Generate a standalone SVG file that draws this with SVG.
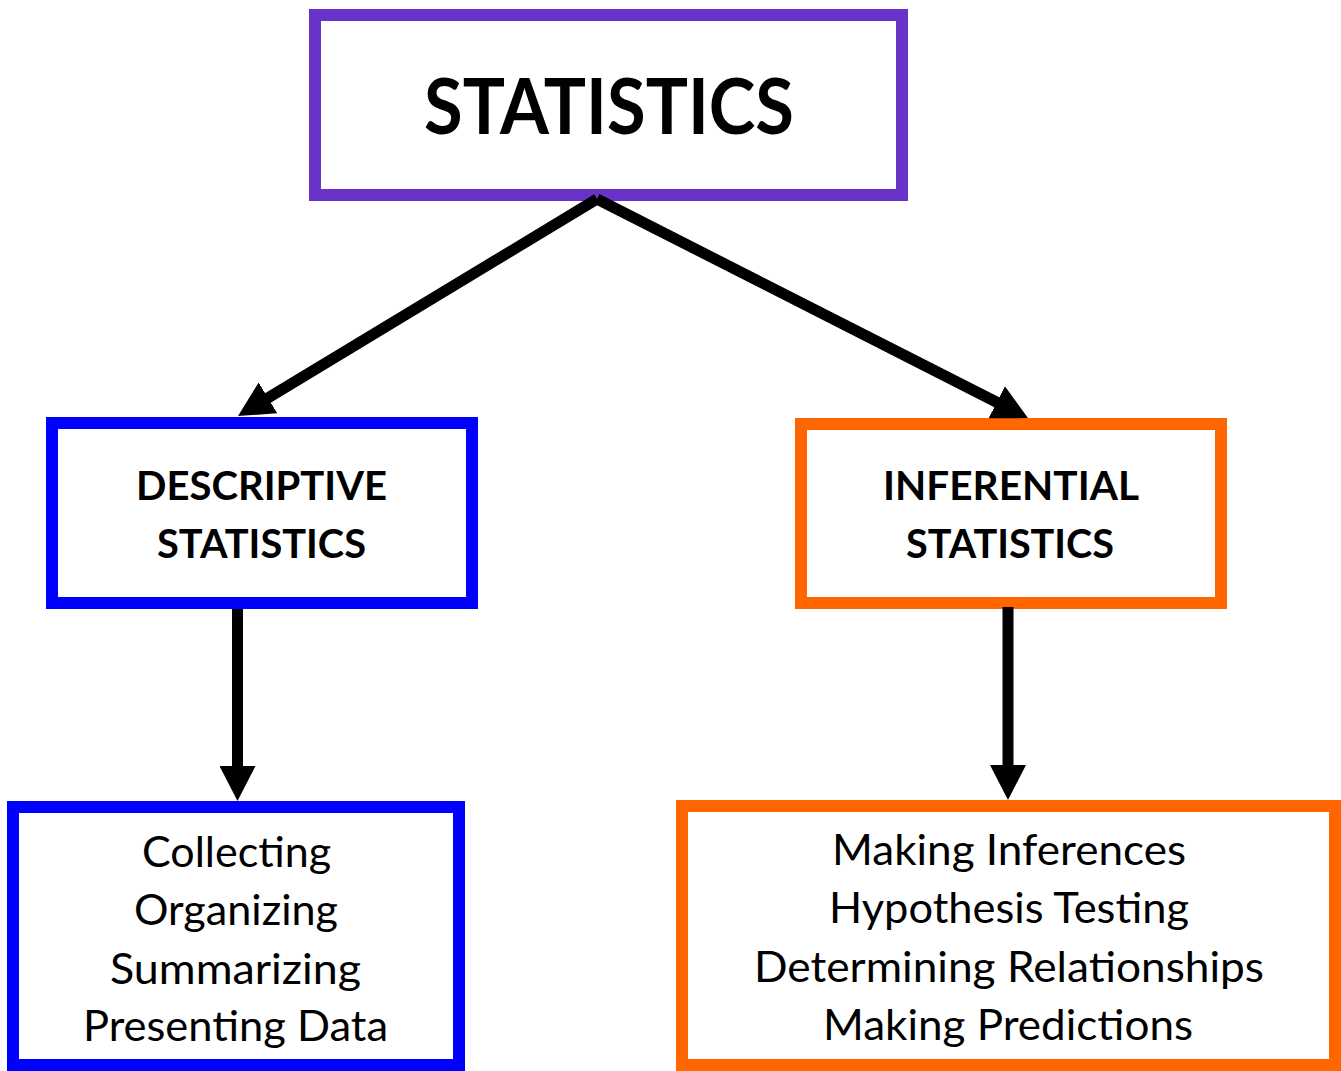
<svg xmlns="http://www.w3.org/2000/svg" width="1341" height="1071" viewBox="0 0 1341 1071">
<style>
  .box { fill: #ffffff; stroke-width: 12; }
  .purple { stroke: #6933CA; }
  .blue { stroke: #0000FF; }
  .orange { stroke: #FF6600; }
  .t { font-family: Lato, "Open Sans", "Liberation Sans", sans-serif; fill: #000000; text-anchor: middle; }
  .title { font-size: 76px; font-weight: 700; }
  .mid { font-size: 40px; font-weight: 700; }
  .low { font-size: 42px; font-weight: 400; }
  .conn { stroke: #000000; stroke-width: 11; fill: none; stroke-linecap: butt; marker-end: url(#head); }
</style>
<defs>
  <marker id="head" markerUnits="userSpaceOnUse" markerWidth="36" markerHeight="36" refX="5" refY="18" orient="auto" viewBox="0 0 36 36">
    <path d="M0,0 L35,18 L0,36 z" fill="#000000"/>
  </marker>
</defs>
<rect width="1341" height="1071" fill="#ffffff"/>
<g id="statistics">
  <rect class="box purple" x="315" y="15" width="587" height="180"/>
  <text class="t title" x="609" y="134" textLength="370" lengthAdjust="spacingAndGlyphs">STATISTICS</text>
</g>
<g id="descriptive">
  <rect class="box blue" x="52" y="423" width="420" height="180"/>
  <text class="t mid" x="261.5" y="500" textLength="251" lengthAdjust="spacingAndGlyphs">DESCRIPTIVE</text>
  <text class="t mid" x="261.5" y="558" textLength="209" lengthAdjust="spacingAndGlyphs">STATISTICS</text>
</g>
<g id="inferential">
  <rect class="box orange" x="801" y="424" width="420" height="179"/>
  <text class="t mid" x="1011" y="500" textLength="256" lengthAdjust="spacingAndGlyphs">INFERENTIAL</text>
  <text class="t mid" x="1010" y="558" textLength="208" lengthAdjust="spacingAndGlyphs">STATISTICS</text>
</g>
<g id="descriptive-tasks">
  <rect class="box blue" x="13" y="807" width="446" height="258"/>
  <text class="t low" x="236.5" y="867" textLength="189" lengthAdjust="spacingAndGlyphs">Collecting</text>
  <text class="t low" x="236" y="925" textLength="204" lengthAdjust="spacingAndGlyphs">Organizing</text>
  <text class="t low" x="235.5" y="984" textLength="251" lengthAdjust="spacingAndGlyphs">Summarizing</text>
  <text class="t low" x="235.5" y="1041" textLength="305" lengthAdjust="spacingAndGlyphs">Presenting Data</text>
</g>
<g id="inferential-tasks">
  <rect class="box orange" x="682" y="806" width="653" height="259"/>
  <text class="t low" x="1009" y="865" textLength="354" lengthAdjust="spacingAndGlyphs">Making Inferences</text>
  <text class="t low" x="1009" y="923" textLength="360" lengthAdjust="spacingAndGlyphs">Hypothesis Testing</text>
  <text class="t low" x="1009" y="982" textLength="510" lengthAdjust="spacingAndGlyphs">Determining Relationships</text>
  <text class="t low" x="1008" y="1040" textLength="370" lengthAdjust="spacingAndGlyphs">Making Predictions</text>
</g>
<g id="connectors">
  <line class="conn" x1="597" y1="199" x2="263.7" y2="400.5"/>
  <line class="conn" x1="597" y1="199" x2="1001.2" y2="404.5"/>
  <line class="conn" x1="237.5" y1="609" x2="237.5" y2="771"/>
  <line class="conn" x1="1008" y1="607" x2="1008" y2="770"/>
</g>
</svg>
